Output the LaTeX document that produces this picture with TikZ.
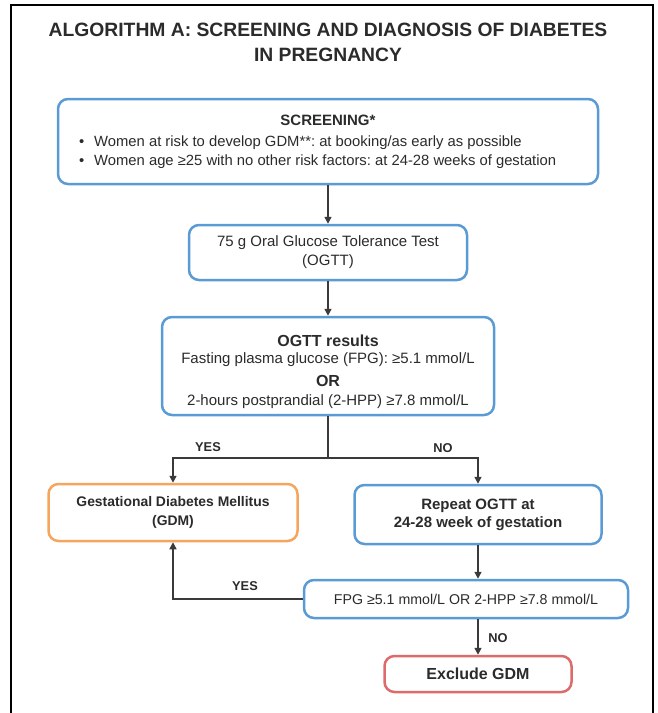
\documentclass[tikz,border=0pt]{standalone}
\usepackage{fontspec}
\setmainfont{Liberation Sans}
\usetikzlibrary{arrows.meta}
\definecolor{bblue}{HTML}{5B9BD5}
\definecolor{borange}{HTML}{F6A55E}
\definecolor{bred}{HTML}{DE6B6B}
\definecolor{txtc}{HTML}{2B2B2B}
\definecolor{lnc}{HTML}{3A3A3A}
\frenchspacing
\begin{document}
\begin{tikzpicture}[x=1pt,y=-1pt,
  box/.style={draw, line width=2.5pt, rounded corners=10pt, inner sep=0pt, fill=white},
  bluebox/.style={box, draw=bblue},
  orbox/.style={box, draw=borange},
  redbox/.style={box, draw=bred},
  tx/.style={text=txtc, inner sep=0pt, font=\fontsize{14.8}{17}\selectfont},
  txb/.style={tx, font=\fontsize{15}{17}\selectfont\bfseries},
  lab/.style={text=txtc, inner sep=0pt, font=\fontsize{12.8}{15}\selectfont\bfseries},
  conn/.style={draw=lnc, line width=1.5pt},
  arr/.style={conn, -{Triangle[width=7pt,length=7pt]}}
]
\useasboundingbox (0,0) rectangle (657,713);
% outer frame
\draw[line width=2pt] (11,713) -- (11,5) -- (653,5) -- (653,713);
% title
\node[tx, font=\fontsize{19.3}{25}\selectfont\bfseries, align=center] (title) at (328,42)
  {ALGORITHM A: SCREENING AND DIAGNOSIS OF DIABETES\\IN PREGNANCY};
% boxes
\node[bluebox, minimum width=540pt, minimum height=85pt] (screen) at (328,141.5) {};
\node[bluebox, minimum width=278pt, minimum height=55pt] (ogtt) at (328,252.5) {};
\node[bluebox, minimum width=332pt, minimum height=98pt] (res) at (328,366) {};
\node[orbox, minimum width=249pt, minimum height=57pt] (gdm) at (173,512.5) {};
\node[bluebox, minimum width=247pt, minimum height=59pt] (rep) at (478,514.5) {};
\node[bluebox, minimum width=324pt, minimum height=38pt] (fpg) at (466,599) {};
\node[redbox, minimum width=187pt, minimum height=36pt] (excl) at (478,674) {};
% screening text
\node[txb] (scrt) at (328,120) {SCREENING*};
\node[tx, anchor=west] (scr1) at (79,143) {\makebox[15pt][l]{•}Women at risk to develop GDM**: at booking/as early as possible};
\node[tx, anchor=west] (scr2) at (79,162) {\makebox[15pt][l]{•}Women age ≥25 with no other risk factors: at 24-28 weeks of gestation};
% ogtt text
\node[tx, align=center, font=\fontsize{15}{19}\selectfont] (ogttt) at (ogtt) {75 g Oral Glucose Tolerance Test\\(OGTT)};
% results text
\node[txb, font=\fontsize{16}{18}\selectfont\bfseries] (r1) at (328,341) {OGTT results};
\node[tx, font=\fontsize{15}{17}\selectfont] (r2) at (328,360) {Fasting plasma glucose (FPG): ≥5.1 mmol/L};
\node[txb, font=\fontsize{16}{18}\selectfont\bfseries] (r3) at (328,381) {OR};
\node[tx, font=\fontsize{15}{17}\selectfont] (r4) at (328,402) {2-hours postprandial (2-HPP) ≥7.8 mmol/L};
% gdm text
\node[txb, align=center, font=\fontsize{13.9}{19}\selectfont\bfseries] (gdmt) at (gdm) {Gestational Diabetes Mellitus\\(GDM)};
% repeat text
\node[txb, align=center, font=\fontsize{15}{18}\selectfont\bfseries] (rept) at (rep) {Repeat OGTT at\\24-28 week of gestation};
% fpg text
\node[tx, font=\fontsize{14.2}{17}\selectfont] (fpgt) at (fpg) {FPG ≥5.1 mmol/L OR 2-HPP ≥7.8 mmol/L};
% exclude text
\node[txb, font=\fontsize{16}{18}\selectfont\bfseries] (exclt) at (excl) {Exclude GDM};
% connectors
\draw[arr] (screen.south) -- (ogtt.north);
\draw[arr] (ogtt.south) -- (res.north);
\coordinate (br) at (328,458);
\draw[conn] (res.south) -- (br);
\draw[arr] (br) -| (gdm.north);
\draw[arr] (br) -| (rep.north);
\draw[arr] (rep.south) -- (rep.south |- fpg.north);
\draw[arr] (fpg.west) -| (gdm.south);
\draw[arr] (excl.north |- fpg.south) -- (excl.north);
% labels
\node[lab] (yes1) at (208,447) {YES};
\node[lab] (no1) at (443,448) {NO};
\node[lab] (yes2) at (245,586) {YES};
\node[lab] (no2) at (498,638) {NO};
\end{tikzpicture}
\end{document}
